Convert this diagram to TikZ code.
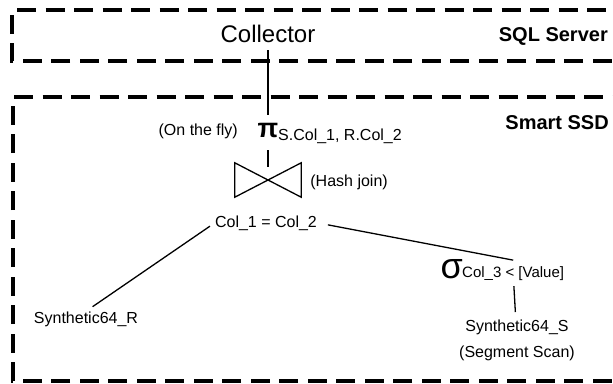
\documentclass[tikz,border=0pt]{standalone}
\usepackage{fontspec}
\setmainfont{Liberation Sans}
\usetikzlibrary{positioning}

\begin{document}
\begin{tikzpicture}[
        x=1pt, y=-1pt,
        txt/.style={inner sep=0pt, font=\fontsize{16}{19}\selectfont},
        tag/.style={inner sep=0pt, font=\fontsize{20}{24}\selectfont\bfseries},
        opsym/.style={inner sep=0pt, font=\fontsize{#1}{#1}\selectfont},
        zone/.style={line width=3.8pt, dash pattern=on 19pt off 9.5pt},
        edge/.style={line width=1.3pt},
    ]
    \useasboundingbox (0,0) rectangle (613,383);
    \clip (0,0) rectangle (613,383);

    % host and device regions
    \draw[zone] (640,61) -- (12,61) -- (12,10) -- (640,10);
    \draw[zone] (640,381) -- (13,381) -- (13,97) -- (640,97);
    \node[tag, anchor=base east] (sqlsrv) at (608,41) {SQL Server};
    \node[tag, anchor=base east] (ssd) at (609,129) {Smart SSD};

    % plan operators
    \node[inner sep=0pt, font=\fontsize{24}{28}\selectfont, anchor=base] (coll) at (268,42) {Collector};
    \node[opsym=27, anchor=base] (proj) at (268,137) {\bfseries π};
    \node[txt, anchor=base west] (projcols) at (278,140) {S.Col\_1, R.Col\_2};
    \node[txt, anchor=base east] (fly) at (238,135) {(On the fly)};
    \node[minimum width=66pt, minimum height=34pt, inner sep=0pt] (join) at (268,180) {};
    \node[txt, right=9pt of join, yshift=-2pt] (hash) {(Hash join)};
    \node[txt, anchor=base] (cond) at (266,227) {Col\_1 = Col\_2};
    \node[opsym=36, anchor=base east] (sel) at (463,278) {σ};
    \node[inner sep=0pt, outer ysep=6pt, font=\fontsize{15}{18}\selectfont, anchor=base west] (selcols) at (462,277) {Col\_3 < [Value]};
    \node[txt, anchor=base] (synR) at (86,323) {Synthetic64\_R};
    \node[txt, align=center, anchor=north, font=\fontsize{16}{26}\selectfont] (synS) at (517,320) {Synthetic64\_S\\(Segment Scan)};

    \draw[edge] (join.north west) -- (join.south east) -- (join.north east) -- (join.south west) -- cycle;
    \draw[edge, shorten <=8pt, shorten >=8pt] (coll) -- (proj);
    \draw[edge, shorten <=13pt, shorten >=13pt] (proj) -- (join.center);
    \draw[edge, shorten <=6pt, shorten >=8pt] (cond.west) -- (synR.north);
    \draw[edge, shorten <=11pt] (cond.east) -- (selcols.north);
    \draw[edge, shorten >=8pt] (selcols) -- (synS);
\end{tikzpicture}
\end{document}
